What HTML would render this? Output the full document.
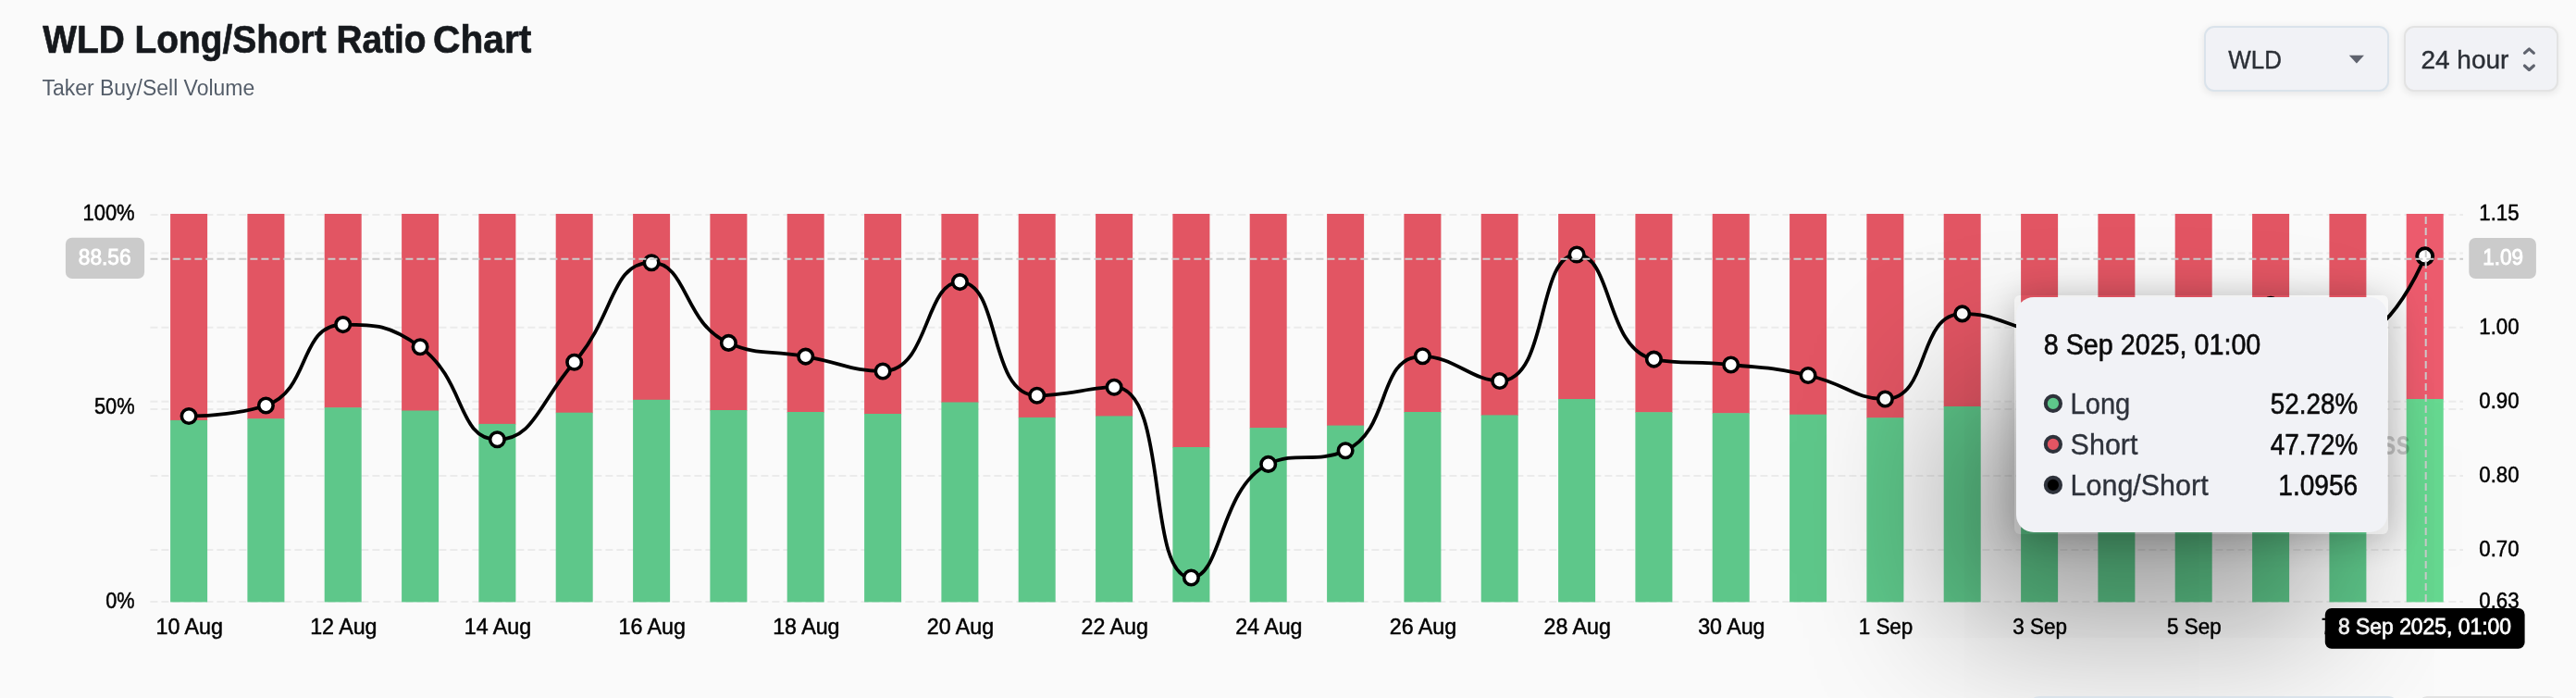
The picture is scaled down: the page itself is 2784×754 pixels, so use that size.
<!DOCTYPE html>
<html><head><meta charset="utf-8"><title>WLD Long/Short Ratio Chart</title>
<style>
html,body{margin:0;padding:0;width:2784px;height:754px;overflow:hidden}
#root{position:absolute;left:0;top:0;width:2784px;height:754px;overflow:hidden;background:#fafafa}
body{width:2784px;height:754px;overflow:hidden;position:relative;background:#fafafa;font-family:"Liberation Sans",sans-serif}
.abs{position:absolute;white-space:nowrap}
.sel{box-sizing:border-box;height:71.3px;top:28px;border-radius:11px;background:#f1f2f6;box-shadow:0 2px 8px rgba(0,0,0,.09)}
.sel1{left:2382.1px;width:199.7px;border:2px solid #dae3eb}
.sel2{left:2598.2px;width:166.7px;border:2px solid #e3e3e3}
.tipouter{left:2176.7px;top:318.6px;width:404.4px;height:258.3px;border-radius:6px;box-shadow:2px 4px 40px rgba(0,0,0,.25)}
.tip{left:2178.7px;top:320.9px;width:401.1px;height:254.1px;border-radius:19px;background:#f1f2f6;box-shadow:-70px 100px 160px rgba(0,0,0,.375)}
.bb{box-sizing:border-box;top:752px;height:70px;border-radius:11px;background:#f1f2f6}
</style></head><body><div id="root">
<div class="abs sel sel1"></div>
<div class="abs sel sel2"></div>
<svg width="2784" height="754" viewBox="0 0 2784 754" style="position:absolute;left:0;top:0;will-change:transform"><line x1="162.4" x2="2662" y1="232" y2="232" stroke="#ebebeb" stroke-width="2" stroke-dasharray="8 4"/><line x1="162.4" x2="2662" y1="273.6" y2="273.6" stroke="#ebebeb" stroke-width="2" stroke-dasharray="8 4"/><line x1="162.4" x2="2662" y1="353.7" y2="353.7" stroke="#ebebeb" stroke-width="2" stroke-dasharray="8 4"/><line x1="162.4" x2="2662" y1="433.8" y2="433.8" stroke="#ebebeb" stroke-width="2" stroke-dasharray="8 4"/><line x1="162.4" x2="2662" y1="513.9" y2="513.9" stroke="#ebebeb" stroke-width="2" stroke-dasharray="8 4"/><line x1="162.4" x2="2662" y1="594" y2="594" stroke="#ebebeb" stroke-width="2" stroke-dasharray="8 4"/><line x1="162.4" x2="2662" y1="650" y2="650" stroke="#ebebeb" stroke-width="2" stroke-dasharray="8 4"/><line x1="162.4" x2="2662" y1="442" y2="442" stroke="#ebebeb" stroke-width="2" stroke-dasharray="8 4"/><rect x="184.1" y="231" width="40" height="223.5" fill="#e25563"/><rect x="184.1" y="453.9" width="40" height="196.5" fill="#5ec78a"/><rect x="267.4" y="231" width="40" height="221.8" fill="#e25563"/><rect x="267.4" y="452.2" width="40" height="198.2" fill="#5ec78a"/><rect x="350.7" y="231" width="40" height="209.8" fill="#e25563"/><rect x="350.7" y="440.2" width="40" height="210.2" fill="#5ec78a"/><rect x="434.1" y="231" width="40" height="213.1" fill="#e25563"/><rect x="434.1" y="443.5" width="40" height="206.9" fill="#5ec78a"/><rect x="517.4" y="231" width="40" height="227.5" fill="#e25563"/><rect x="517.4" y="457.9" width="40" height="192.5" fill="#5ec78a"/><rect x="600.7" y="231" width="40" height="215.3" fill="#e25563"/><rect x="600.7" y="445.7" width="40" height="204.7" fill="#5ec78a"/><rect x="684.1" y="231" width="40" height="201.4" fill="#e25563"/><rect x="684.1" y="431.8" width="40" height="218.6" fill="#5ec78a"/><rect x="767.4" y="231" width="40" height="212.6" fill="#e25563"/><rect x="767.4" y="443.0" width="40" height="207.4" fill="#5ec78a"/><rect x="850.7" y="231" width="40" height="214.6" fill="#e25563"/><rect x="850.7" y="445.0" width="40" height="205.4" fill="#5ec78a"/><rect x="934.1" y="231" width="40" height="216.6" fill="#e25563"/><rect x="934.1" y="447.0" width="40" height="203.4" fill="#5ec78a"/><rect x="1017.4" y="231" width="40" height="204.1" fill="#e25563"/><rect x="1017.4" y="434.5" width="40" height="215.9" fill="#5ec78a"/><rect x="1100.7" y="231" width="40" height="220.5" fill="#e25563"/><rect x="1100.7" y="450.9" width="40" height="199.5" fill="#5ec78a"/><rect x="1184.1" y="231" width="40" height="219.0" fill="#e25563"/><rect x="1184.1" y="449.4" width="40" height="201.0" fill="#5ec78a"/><rect x="1267.4" y="231" width="40" height="252.6" fill="#e25563"/><rect x="1267.4" y="483.0" width="40" height="167.4" fill="#5ec78a"/><rect x="1350.7" y="231" width="40" height="231.7" fill="#e25563"/><rect x="1350.7" y="462.1" width="40" height="188.3" fill="#5ec78a"/><rect x="1434.1" y="231" width="40" height="229.2" fill="#e25563"/><rect x="1434.1" y="459.6" width="40" height="190.8" fill="#5ec78a"/><rect x="1517.4" y="231" width="40" height="214.6" fill="#e25563"/><rect x="1517.4" y="445.0" width="40" height="205.4" fill="#5ec78a"/><rect x="1600.7" y="231" width="40" height="218.0" fill="#e25563"/><rect x="1600.7" y="448.4" width="40" height="202.0" fill="#5ec78a"/><rect x="1684.1" y="231" width="40" height="200.6" fill="#e25563"/><rect x="1684.1" y="431.0" width="40" height="219.4" fill="#5ec78a"/><rect x="1767.4" y="231" width="40" height="214.8" fill="#e25563"/><rect x="1767.4" y="445.2" width="40" height="205.2" fill="#5ec78a"/><rect x="1850.7" y="231" width="40" height="215.8" fill="#e25563"/><rect x="1850.7" y="446.2" width="40" height="204.2" fill="#5ec78a"/><rect x="1934.1" y="231" width="40" height="217.3" fill="#e25563"/><rect x="1934.1" y="447.7" width="40" height="202.7" fill="#5ec78a"/><rect x="2017.4" y="231" width="40" height="220.8" fill="#e25563"/><rect x="2017.4" y="451.2" width="40" height="199.2" fill="#5ec78a"/><rect x="2100.7" y="231" width="40" height="208.6" fill="#e25563"/><rect x="2100.7" y="439.0" width="40" height="211.4" fill="#5ec78a"/><rect x="2184.1" y="231" width="40" height="213.6" fill="#e25563"/><rect x="2184.1" y="444.0" width="40" height="206.4" fill="#5ec78a"/><rect x="2267.4" y="231" width="40" height="215.6" fill="#e25563"/><rect x="2267.4" y="446.0" width="40" height="204.4" fill="#5ec78a"/><rect x="2350.7" y="231" width="40" height="211.6" fill="#e25563"/><rect x="2350.7" y="442.0" width="40" height="208.4" fill="#5ec78a"/><rect x="2434.1" y="231" width="40" height="205.6" fill="#e25563"/><rect x="2434.1" y="436.0" width="40" height="214.4" fill="#5ec78a"/><rect x="2517.4" y="231" width="40" height="216.6" fill="#e25563"/><rect x="2517.4" y="447.0" width="40" height="203.4" fill="#5ec78a"/><rect x="2600.7" y="231" width="40" height="200.6" fill="#ec5b6d"/><rect x="2600.7" y="431.0" width="40" height="219.4" fill="#66d890"/><path d="M204.07,449.50C204.07,449.50 253.19,449.50 287.40,438.00C336.52,421.49 322.24,350.60 370.74,350.60C405.57,350.60 420.76,350.60 454.07,374.70C504.09,410.88 493.68,474.80 537.40,474.80C577.01,474.80 582.04,435.67 620.74,391.30C665.38,340.12 659.83,283.70 704.07,283.70C743.16,283.70 738.49,349.51 787.40,370.40C821.82,385.10 829.12,377.46 870.74,385.10C912.46,392.76 920.76,401.00 954.07,401.00C1004.10,401.00 998.89,304.60 1037.40,304.60C1082.23,304.60 1067.49,427.30 1120.74,427.30C1150.83,427.30 1181.23,418.20 1204.07,418.20C1264.56,418.20 1237.43,624.00 1287.40,624.00C1320.77,624.00 1317.69,527.15 1370.74,501.40C1401.02,486.70 1421.46,501.40 1454.07,486.70C1504.79,463.83 1487.35,384.80 1537.40,384.80C1570.68,384.80 1591.26,411.50 1620.74,411.50C1674.60,411.50 1659.71,275.00 1704.07,275.00C1743.04,275.00 1735.15,378.18 1787.40,388.10C1818.48,394.00 1829.21,389.67 1870.74,394.00C1912.55,398.37 1913.14,396.41 1954.07,405.50C1996.47,414.91 2003.04,431.00 2037.40,431.00C2086.37,431.00 2071.49,338.90 2120.74,338.90C2154.82,338.90 2162.46,349.24 2204.07,360.00C2245.79,370.79 2245.62,382.00 2287.40,382.00C2328.95,382.00 2329.97,374.87 2370.74,362.00C2413.30,348.57 2412.85,329.40 2454.07,329.40C2496.18,329.40 2501.84,367.00 2537.40,367.00C2585.17,367.00 2620.74,276.80 2620.74,276.80" fill="none" stroke="#000" stroke-width="3.8" stroke-linejoin="round" stroke-linecap="round"/><circle cx="204.1" cy="449.5" r="7.75" fill="#fff" stroke="#000" stroke-width="3.6"/><circle cx="287.4" cy="438.0" r="7.75" fill="#fff" stroke="#000" stroke-width="3.6"/><circle cx="370.7" cy="350.6" r="7.75" fill="#fff" stroke="#000" stroke-width="3.6"/><circle cx="454.1" cy="374.7" r="7.75" fill="#fff" stroke="#000" stroke-width="3.6"/><circle cx="537.4" cy="474.8" r="7.75" fill="#fff" stroke="#000" stroke-width="3.6"/><circle cx="620.7" cy="391.3" r="7.75" fill="#fff" stroke="#000" stroke-width="3.6"/><circle cx="704.1" cy="283.7" r="7.75" fill="#fff" stroke="#000" stroke-width="3.6"/><circle cx="787.4" cy="370.4" r="7.75" fill="#fff" stroke="#000" stroke-width="3.6"/><circle cx="870.7" cy="385.1" r="7.75" fill="#fff" stroke="#000" stroke-width="3.6"/><circle cx="954.1" cy="401.0" r="7.75" fill="#fff" stroke="#000" stroke-width="3.6"/><circle cx="1037.4" cy="304.6" r="7.75" fill="#fff" stroke="#000" stroke-width="3.6"/><circle cx="1120.7" cy="427.3" r="7.75" fill="#fff" stroke="#000" stroke-width="3.6"/><circle cx="1204.1" cy="418.2" r="7.75" fill="#fff" stroke="#000" stroke-width="3.6"/><circle cx="1287.4" cy="624.0" r="7.75" fill="#fff" stroke="#000" stroke-width="3.6"/><circle cx="1370.7" cy="501.4" r="7.75" fill="#fff" stroke="#000" stroke-width="3.6"/><circle cx="1454.1" cy="486.7" r="7.75" fill="#fff" stroke="#000" stroke-width="3.6"/><circle cx="1537.4" cy="384.8" r="7.75" fill="#fff" stroke="#000" stroke-width="3.6"/><circle cx="1620.7" cy="411.5" r="7.75" fill="#fff" stroke="#000" stroke-width="3.6"/><circle cx="1704.1" cy="275.0" r="7.75" fill="#fff" stroke="#000" stroke-width="3.6"/><circle cx="1787.4" cy="388.1" r="7.75" fill="#fff" stroke="#000" stroke-width="3.6"/><circle cx="1870.7" cy="394.0" r="7.75" fill="#fff" stroke="#000" stroke-width="3.6"/><circle cx="1954.1" cy="405.5" r="7.75" fill="#fff" stroke="#000" stroke-width="3.6"/><circle cx="2037.4" cy="431.0" r="7.75" fill="#fff" stroke="#000" stroke-width="3.6"/><circle cx="2120.7" cy="338.9" r="7.75" fill="#fff" stroke="#000" stroke-width="3.6"/><circle cx="2204.1" cy="360.0" r="7.75" fill="#fff" stroke="#000" stroke-width="3.6"/><circle cx="2287.4" cy="382.0" r="7.75" fill="#fff" stroke="#000" stroke-width="3.6"/><circle cx="2370.7" cy="362.0" r="7.75" fill="#fff" stroke="#000" stroke-width="3.6"/><circle cx="2454.1" cy="329.4" r="7.75" fill="#fff" stroke="#000" stroke-width="3.6"/><circle cx="2537.4" cy="367.0" r="7.75" fill="#fff" stroke="#000" stroke-width="3.6"/><circle cx="2620.7" cy="276.8" r="8.5" fill="#fff" stroke="#000" stroke-width="3.9"/><text x="2574.3" y="491.2" font-family="Liberation Sans, sans-serif" font-weight="700" font-size="37" fill="#000" fill-opacity="0.2" textLength="30.6" lengthAdjust="spacingAndGlyphs">ss</text><line x1="162.4" x2="2662" y1="279.8" y2="279.8" stroke="#cccccc" stroke-width="2" stroke-dasharray="8 4"/><line x1="2621.7" x2="2621.7" y1="650" y2="231" stroke="#cccccc" stroke-width="2" stroke-dasharray="8 4"/><text x="89.50" y="238.10" font-family="Liberation Sans, sans-serif" font-size="24" fill="#000" textLength="56.10" lengthAdjust="spacingAndGlyphs" stroke="#000" stroke-width="0.5">100%</text><text x="102.00" y="447.00" font-family="Liberation Sans, sans-serif" font-size="24" fill="#000" textLength="43.60" lengthAdjust="spacingAndGlyphs" stroke="#000" stroke-width="0.5">50%</text><text x="114.30" y="657.10" font-family="Liberation Sans, sans-serif" font-size="24" fill="#000" textLength="31.30" lengthAdjust="spacingAndGlyphs" stroke="#000" stroke-width="0.5">0%</text><text x="2679.30" y="238.00" font-family="Liberation Sans, sans-serif" font-size="24" fill="#000" textLength="43.30" lengthAdjust="spacingAndGlyphs" stroke="#000" stroke-width="0.5">1.15</text><text x="2679.30" y="360.50" font-family="Liberation Sans, sans-serif" font-size="24" fill="#000" textLength="43.30" lengthAdjust="spacingAndGlyphs" stroke="#000" stroke-width="0.5">1.00</text><text x="2679.30" y="440.60" font-family="Liberation Sans, sans-serif" font-size="24" fill="#000" textLength="43.30" lengthAdjust="spacingAndGlyphs" stroke="#000" stroke-width="0.5">0.90</text><text x="2679.30" y="520.70" font-family="Liberation Sans, sans-serif" font-size="24" fill="#000" textLength="43.30" lengthAdjust="spacingAndGlyphs" stroke="#000" stroke-width="0.5">0.80</text><text x="2679.30" y="600.80" font-family="Liberation Sans, sans-serif" font-size="24" fill="#000" textLength="43.30" lengthAdjust="spacingAndGlyphs" stroke="#000" stroke-width="0.5">0.70</text><text x="2679.30" y="656.80" font-family="Liberation Sans, sans-serif" font-size="24" fill="#000" textLength="43.30" lengthAdjust="spacingAndGlyphs" stroke="#000" stroke-width="0.5">0.63</text><text x="168.47" y="685.10" font-family="Liberation Sans, sans-serif" font-size="24" fill="#000" textLength="72.40" lengthAdjust="spacingAndGlyphs" stroke="#000" stroke-width="0.5">10 Aug</text><text x="335.14" y="685.10" font-family="Liberation Sans, sans-serif" font-size="24" fill="#000" textLength="72.40" lengthAdjust="spacingAndGlyphs" stroke="#000" stroke-width="0.5">12 Aug</text><text x="501.80" y="685.10" font-family="Liberation Sans, sans-serif" font-size="24" fill="#000" textLength="72.40" lengthAdjust="spacingAndGlyphs" stroke="#000" stroke-width="0.5">14 Aug</text><text x="668.47" y="685.10" font-family="Liberation Sans, sans-serif" font-size="24" fill="#000" textLength="72.40" lengthAdjust="spacingAndGlyphs" stroke="#000" stroke-width="0.5">16 Aug</text><text x="835.14" y="685.10" font-family="Liberation Sans, sans-serif" font-size="24" fill="#000" textLength="72.40" lengthAdjust="spacingAndGlyphs" stroke="#000" stroke-width="0.5">18 Aug</text><text x="1001.80" y="685.10" font-family="Liberation Sans, sans-serif" font-size="24" fill="#000" textLength="72.40" lengthAdjust="spacingAndGlyphs" stroke="#000" stroke-width="0.5">20 Aug</text><text x="1168.47" y="685.10" font-family="Liberation Sans, sans-serif" font-size="24" fill="#000" textLength="72.40" lengthAdjust="spacingAndGlyphs" stroke="#000" stroke-width="0.5">22 Aug</text><text x="1335.14" y="685.10" font-family="Liberation Sans, sans-serif" font-size="24" fill="#000" textLength="72.40" lengthAdjust="spacingAndGlyphs" stroke="#000" stroke-width="0.5">24 Aug</text><text x="1501.80" y="685.10" font-family="Liberation Sans, sans-serif" font-size="24" fill="#000" textLength="72.40" lengthAdjust="spacingAndGlyphs" stroke="#000" stroke-width="0.5">26 Aug</text><text x="1668.47" y="685.10" font-family="Liberation Sans, sans-serif" font-size="24" fill="#000" textLength="72.40" lengthAdjust="spacingAndGlyphs" stroke="#000" stroke-width="0.5">28 Aug</text><text x="1835.14" y="685.10" font-family="Liberation Sans, sans-serif" font-size="24" fill="#000" textLength="72.40" lengthAdjust="spacingAndGlyphs" stroke="#000" stroke-width="0.5">30 Aug</text><text x="2008.70" y="685.10" font-family="Liberation Sans, sans-serif" font-size="24" fill="#000" textLength="58.60" lengthAdjust="spacingAndGlyphs" stroke="#000" stroke-width="0.5">1 Sep</text><text x="2175.37" y="685.10" font-family="Liberation Sans, sans-serif" font-size="24" fill="#000" textLength="58.60" lengthAdjust="spacingAndGlyphs" stroke="#000" stroke-width="0.5">3 Sep</text><text x="2342.04" y="685.10" font-family="Liberation Sans, sans-serif" font-size="24" fill="#000" textLength="58.60" lengthAdjust="spacingAndGlyphs" stroke="#000" stroke-width="0.5">5 Sep</text><text x="2508.70" y="685.10" font-family="Liberation Sans, sans-serif" font-size="24" fill="#000" textLength="58.60" lengthAdjust="spacingAndGlyphs" stroke="#000" stroke-width="0.5">7 Sep</text><rect x="70.9" y="256.7" width="85.2" height="44.3" rx="7" fill="#cbcbcb"/><text x="84.80" y="286.00" font-family="Liberation Sans, sans-serif" font-size="24" fill="#fff" textLength="56.70" lengthAdjust="spacingAndGlyphs" stroke="#fff" stroke-width="0.9">88.56</text><rect x="2668.3" y="256.9" width="72.6" height="44.2" rx="7" fill="#cbcbcb"/><text x="2683.20" y="285.60" font-family="Liberation Sans, sans-serif" font-size="24" fill="#fff" textLength="43.80" lengthAdjust="spacingAndGlyphs" stroke="#fff" stroke-width="0.9">1.09</text><rect x="2512.8" y="657" width="215.8" height="43.8" rx="7" fill="#000"/><text x="2527.00" y="685.00" font-family="Liberation Sans, sans-serif" font-size="24" fill="#fff" textLength="187.00" lengthAdjust="spacingAndGlyphs" stroke="#fff" stroke-width="0.8">8 Sep 2025, 01:00</text></svg>
<div class="abs tipouter"></div>
<div class="abs tip"></div>
<div class="abs bb" style="left:2193px;width:399px;border:2px solid #dae3eb"></div>
<div class="abs bb" style="left:2613.3px;width:151.6px;border:2px solid #e3e3e3"></div>
<svg width="2784" height="754" viewBox="0 0 2784 754" style="position:absolute;left:0;top:0;will-change:transform"><text x="46.30" y="57.00" font-family="Liberation Sans, sans-serif" font-size="42.6" fill="#16191d" textLength="414.30" lengthAdjust="spacingAndGlyphs" font-weight="700" stroke="#16191d" stroke-width="0.7">WLD Long/Short Ratio</text><text x="468.00" y="57.00" font-family="Liberation Sans, sans-serif" font-size="42.6" fill="#16191d" textLength="106.40" lengthAdjust="spacingAndGlyphs" font-weight="700" stroke="#16191d" stroke-width="0.7">Chart</text><text x="45.50" y="102.60" font-family="Liberation Sans, sans-serif" font-size="24.7" fill="#545d69" textLength="229.70" lengthAdjust="spacingAndGlyphs">Taker Buy/Sell Volume</text><text x="2408.30" y="73.80" font-family="Liberation Sans, sans-serif" font-size="27.8" fill="#2b2f36" textLength="57.70" lengthAdjust="spacingAndGlyphs" stroke="#2b2f36" stroke-width="0.4">WLD</text><text x="2616.40" y="73.80" font-family="Liberation Sans, sans-serif" font-size="27.8" fill="#2b2f36" textLength="95.00" lengthAdjust="spacingAndGlyphs" stroke="#2b2f36" stroke-width="0.4">24 hour</text><path d="M2538.8,59.8H2555L2546.9,68.4Z" fill="#5f636e"/><path d="M2728.4,57.3L2733.4,52.8L2738.4,57.3M2728.4,71L2733.4,75.5L2738.4,71" fill="none" stroke="#5f636e" stroke-width="3.1" stroke-linecap="round" stroke-linejoin="round"/><text x="2208.80" y="383.20" font-family="Liberation Sans, sans-serif" font-size="31.5" fill="#0b0b0c" textLength="234.50" lengthAdjust="spacingAndGlyphs" stroke="#0b0b0c" stroke-width="0.6">8 Sep 2025, 01:00</text><circle cx="2218.9" cy="435.9" r="8.1" fill="#5ec78a" stroke="#2e323b" stroke-width="4"/><text x="2237.60" y="446.80" font-family="Liberation Sans, sans-serif" font-size="31" fill="#2e323b" textLength="64.70" lengthAdjust="spacingAndGlyphs" stroke="#2e323b" stroke-width="0.35">Long</text><text x="2453.80" y="446.80" font-family="Liberation Sans, sans-serif" font-size="31" fill="#0b0b0c" textLength="94.40" lengthAdjust="spacingAndGlyphs" stroke="#0b0b0c" stroke-width="0.6">52.28%</text><circle cx="2218.9" cy="479.9" r="8.1" fill="#e25563" stroke="#2e323b" stroke-width="4"/><text x="2237.60" y="490.80" font-family="Liberation Sans, sans-serif" font-size="31" fill="#2e323b" textLength="72.90" lengthAdjust="spacingAndGlyphs" stroke="#2e323b" stroke-width="0.35">Short</text><text x="2453.80" y="490.80" font-family="Liberation Sans, sans-serif" font-size="31" fill="#0b0b0c" textLength="94.40" lengthAdjust="spacingAndGlyphs" stroke="#0b0b0c" stroke-width="0.6">47.72%</text><circle cx="2218.9" cy="523.9" r="8.1" fill="#000" stroke="#2e323b" stroke-width="4"/><text x="2237.60" y="534.80" font-family="Liberation Sans, sans-serif" font-size="31" fill="#2e323b" textLength="149.00" lengthAdjust="spacingAndGlyphs" stroke="#2e323b" stroke-width="0.35">Long/Short</text><text x="2462.30" y="534.80" font-family="Liberation Sans, sans-serif" font-size="31" fill="#0b0b0c" textLength="85.90" lengthAdjust="spacingAndGlyphs" stroke="#0b0b0c" stroke-width="0.6">1.0956</text></svg>
</div></body></html>
